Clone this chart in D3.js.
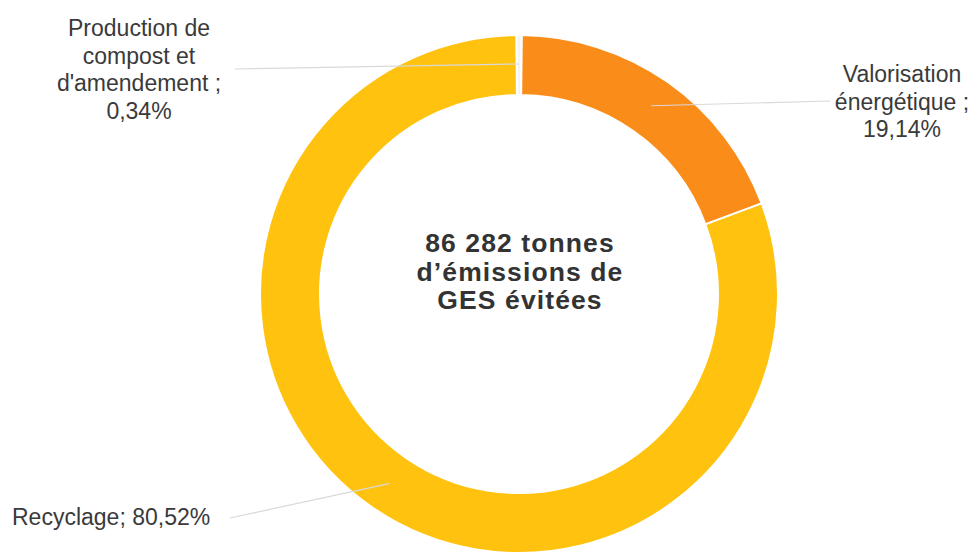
<!DOCTYPE html>
<html>
<head>
<meta charset="utf-8">
<script src="https://cdn.jsdelivr.net/npm/d3@7"></script>
<style>
  html, body { margin: 0; padding: 0; background: #fff; }
  svg text { font-family: "Liberation Sans", Arial, sans-serif; }
</style>
</head>
<body>
<svg id="chart" width="973" height="560"></svg>
<script>
// data
var categories = ["Production de compost et d'amendement", "Valorisation énergétique", "Recyclage"];
var shares = [0.34, 19.14, 80.52];
var sliceColors = ["#f4f4f4", "#fa8c1a", "#ffc20e"];
var labelLines = [
  ["Production de", "compost et", "d'amendement ;", "0,34%"],
  ["Valorisation", "énergétique ;", "19,14%"],
  ["Recyclage; 80,52%"]
];
var centerLines = ["86 282 tonnes", "d\u2019émissions de", "GES évitées"];

// layout
var cx = 519, cy = 294, rOuter = 259, rInner = 199;
var labelLayout = [
  { x: 139, y: 36, anchor: "middle", lineEnd: [235, 69] },
  { x: 902, y: 82, anchor: "middle", lineEnd: [830, 101] },
  { x: 12, y: 525, anchor: "start", lineEnd: [230, 518] }
];

var svg = d3.select("#chart");
var g = svg.append("g").attr("transform", "translate(" + cx + "," + cy + ")");

var offset = -0.6 * Math.PI / 180;
var pie = d3.pie().sort(null).value(function(d) { return d; })
  .startAngle(offset).endAngle(2 * Math.PI + offset);
var arcs = pie(shares);

var arc = d3.arc().innerRadius(rInner).outerRadius(rOuter);
var leaderArc = d3.arc().innerRadius(230).outerRadius(230);

g.selectAll("path.slice")
  .data(arcs)
  .enter()
  .append("path")
  .attr("class", "slice")
  .attr("d", arc)
  .attr("fill", function(d, i) { return sliceColors[i]; })
  .attr("stroke", "#fff")
  .attr("stroke-width", 2);

// leader lines
svg.selectAll("line.leader")
  .data(arcs)
  .enter()
  .append("line")
  .attr("class", "leader")
  .attr("x1", function(d) { return cx + leaderArc.centroid(d)[0]; })
  .attr("y1", function(d) { return cy + leaderArc.centroid(d)[1]; })
  .attr("x2", function(d, i) { return labelLayout[i].lineEnd[0]; })
  .attr("y2", function(d, i) { return labelLayout[i].lineEnd[1]; })
  .attr("stroke", "#d9d9d9")
  .attr("stroke-width", 1.2);

// slice labels
labelLines.forEach(function(lines, i) {
  var L = labelLayout[i];
  var t = svg.append("text")
    .attr("x", L.x)
    .attr("y", L.y)
    .attr("text-anchor", L.anchor)
    .attr("font-size", 23)
    .attr("fill", "#3a3a3a");
  lines.forEach(function(s, j) {
    t.append("tspan").attr("x", L.x).attr("dy", j == 0 ? 0 : 27.6).text(s);
  });
});

// centre text
var ct = svg.append("text")
  .attr("x", cx + 1)
  .attr("y", 252)
  .attr("text-anchor", "middle")
  .attr("font-size", 26.5)
  .attr("font-weight", "bold")
  .attr("letter-spacing", 1.1)
  .attr("fill", "#333");
centerLines.forEach(function(s, j) {
  ct.append("tspan").attr("x", cx + 1).attr("dy", j == 0 ? 0 : 28.5).text(s);
});
</script>
</body>
</html>
